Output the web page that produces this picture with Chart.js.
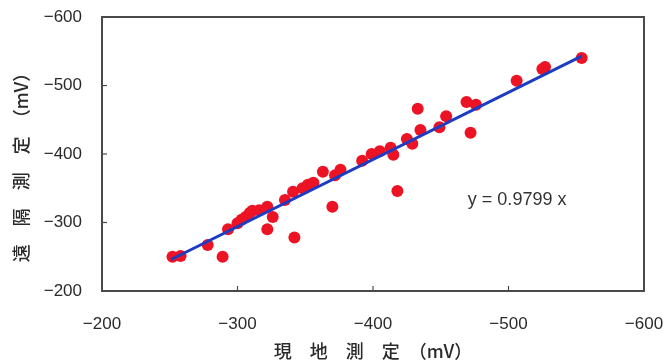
<!DOCTYPE html>
<html><head><meta charset="utf-8">
<script src="https://cdn.jsdelivr.net/npm/chart.js@4/dist/chart.umd.min.js"></script>
<style>html,body{margin:0;padding:0;background:#fff;}#wrap{width:663px;height:363px;}</style>
</head><body><div id="wrap"><canvas id="c" width="663" height="363"></canvas></div>
<script>
// 現地測定 (field measurement, mV)
const fieldValues = [-252,-258,-278,-289,-293,-300,-303,-306,-309,-311,-316,-322,-326,-322,-335,-342,-341,-348,-352,-356,-363,-372,-376,-370,-392,-399,-405,-413,-415,-418,-425,-429,-433,-435,-449,-454,-469,-476,-472,-506,-525,-527,-554];
// 遠隔測定 (remote measurement, mV)
const remoteValues = [-250,-251,-267,-250,-290,-299,-304,-308,-314,-317,-318,-323,-308,-290,-333,-278,-345,-350,-355,-358,-374,-369,-377,-323,-390,-400,-404,-409,-399,-346,-422,-415,-466,-435,-439,-455,-476,-472,-431,-507,-524,-527,-540];
// regression line endpoints
const lineX = [-251, -554];
const lineY = [-246, -543];
const xTicks = [-200, -300, -400, -500, -600];
const yTicks = [-200, -300, -400, -500, -600];
const innerTicks = [-300, -400, -500];
const xTitle = "現\u3000地\u3000測\u3000定\u3000（mV）";
const yTitle = "遠\u3000隔\u3000測\u3000定\u3000（mV）\u3000\u2002";
const equationText = "y = 0.9799 x";
const equationAt = [-470, -333];

const fmt = v => (v < 0 ? "\u2212" + Math.abs(v) : String(v));

const framePlugin = {
  id: 'frame',
  afterDraw(chart) {
    const {ctx, chartArea: a, scales: {x, y}} = chart;
    ctx.save();
    ctx.strokeStyle = '#4a4a4a';
    ctx.lineWidth = 2;
    ctx.strokeRect(a.left, a.top, a.right - a.left, a.bottom - a.top);
    ctx.lineWidth = 1.2;
    innerTicks.forEach(v => {
      const px = x.getPixelForValue(v);
      ctx.beginPath(); ctx.moveTo(px, a.bottom); ctx.lineTo(px, a.bottom - 5); ctx.stroke();
      const py = y.getPixelForValue(v);
      ctx.beginPath(); ctx.moveTo(a.left, py); ctx.lineTo(a.left + 5, py); ctx.stroke();
    });
    ctx.fillStyle = '#333';
    ctx.font = '18px "Liberation Sans", Arial, sans-serif';
    ctx.textAlign = 'left';
    ctx.textBaseline = 'middle';
    ctx.fillText(equationText, x.getPixelForValue(equationAt[0]), y.getPixelForValue(equationAt[1]));
    ctx.restore();
  }
};

const tickFont = {family: '"Liberation Sans", Arial, sans-serif', size: 17};
const titleFont = {family: '"Noto Sans CJK JP", sans-serif', size: 18, weight: '500'};

new Chart(document.getElementById('c'), {
  type: 'scatter',
  data: {
    datasets: [
      {
        data: lineX.map((v, i) => ({x: v, y: lineY[i]})),
        showLine: true,
        borderColor: '#1c3cc4',
        borderWidth: 3,
        pointRadius: 0,
        fill: false
      },
      {
        data: fieldValues.map((v, i) => ({x: v, y: remoteValues[i]})),
        backgroundColor: '#ec1424',
        borderWidth: 0,
        pointRadius: 6,
        showLine: false
      }
    ]
  },
  options: {
    responsive: false,
    devicePixelRatio: 1,
    animation: false,
    layout: {padding: {top: 17, right: 19, left: 0, bottom: 0}},
    plugins: {legend: {display: false}, tooltip: {enabled: false}},
    scales: {
      x: {
        type: 'linear', min: -600, max: -200, reverse: true,
        afterBuildTicks: s => { s.ticks = xTicks.map(v => ({value: v})); },
        afterFit: s => { s.height = 72; s.paddingLeft = 0; s.paddingRight = 0; },
        grid: {display: false}, border: {display: false},
        ticks: {padding: 15, color: '#2a2a2a', font: tickFont, callback: fmt, maxRotation: 0},
        title: {display: true, text: xTitle, color: '#2a2a2a', padding: {top: 0, bottom: 1}, font: titleFont}
      },
      y: {
        type: 'linear', min: -600, max: -200, reverse: true,
        afterBuildTicks: s => { s.ticks = yTicks.map(v => ({value: v})); },
        afterFit: s => { s.width = 102; s.paddingTop = 0; s.paddingBottom = 0; },
        grid: {display: false}, border: {display: false},
        ticks: {padding: 12, color: '#2a2a2a', font: tickFont, callback: fmt},
        title: {display: true, text: yTitle, color: '#2a2a2a', padding: {top: 10, bottom: 0}, font: titleFont}
      }
    }
  },
  plugins: [framePlugin]
});
</script></body></html>
